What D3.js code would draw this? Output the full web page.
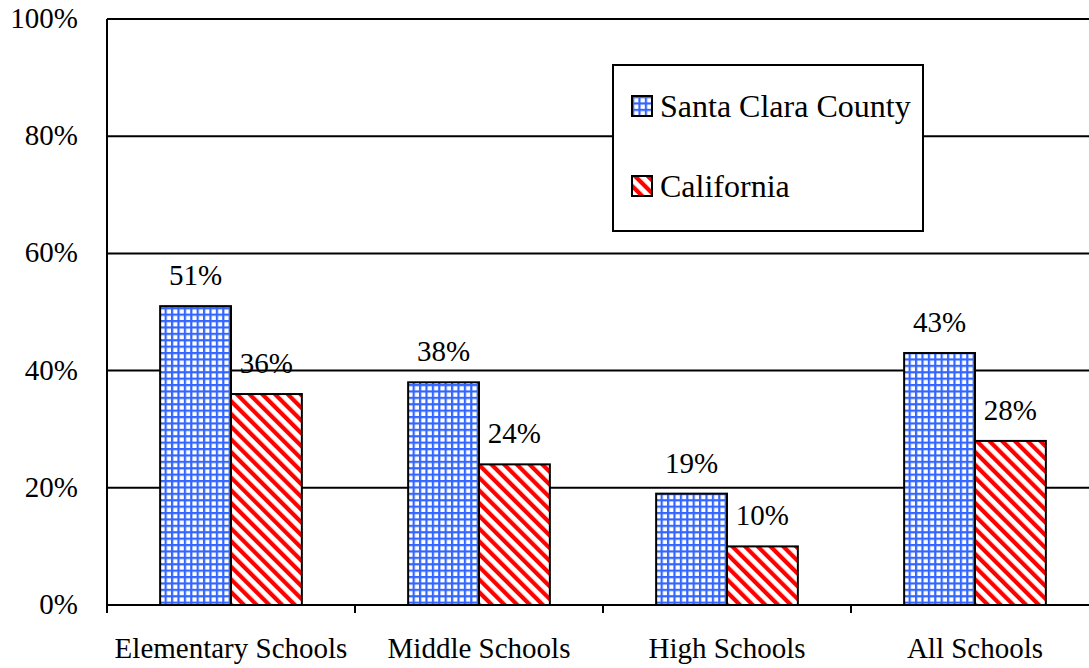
<!DOCTYPE html>
<meta charset="utf-8">
<style>
body { margin: 0; background: #fff; }
text { font-family: "Times New Roman", "Liberation Serif", "DejaVu Serif", serif; fill: #000; }
</style>
<svg width="1089" height="668"></svg>
<script src="https://d3js.org/d3.v7.min.js"></script>
<script>

var categories = ["Elementary Schools", "Middle Schools", "High Schools", "All Schools"];
var series = ["Santa Clara County", "California"];
var santaClara = [51, 38, 19, 43];
var california = [36, 24, 10, 28];
var yTicks = [0, 20, 40, 60, 80, 100];

var svg = d3.select("svg");

var margin = {left: 107, top: 19, bottom: 605},
    plotRight = 1099;

var defs = svg.append("defs");

// blue grid pattern
var grid = defs.append("pattern")
    .attr("id", "grid")
    .attr("patternUnits", "userSpaceOnUse")
    .attr("width", 6.4).attr("height", 6.4);
grid.append("rect").attr("width", 6.4).attr("height", 6.4).attr("fill", "#fff");
grid.append("rect").attr("width", 2.2).attr("height", 6.4).attr("fill", "#3366ff");
grid.append("rect").attr("width", 6.4).attr("height", 2.2).attr("fill", "#3366ff");

// red diagonal stripes
var hatch = defs.append("pattern")
    .attr("id", "hatch")
    .attr("patternUnits", "userSpaceOnUse")
    .attr("width", 9).attr("height", 9)
    .attr("patternTransform", "rotate(-45)");
hatch.append("rect").attr("width", 9).attr("height", 9).attr("fill", "#fff");
hatch.append("rect").attr("width", 4.2).attr("height", 9).attr("fill", "#ff0000");

var fills = ["url(#grid)", "url(#hatch)"];

var x = d3.scaleBand()
    .domain(categories)
    .range([margin.left, plotRight])
    .paddingInner(0)
    .paddingOuter(0);

var x1 = d3.scaleBand()
    .domain(series)
    .range([0, x.bandwidth()])
    .paddingInner(0)
    .paddingOuter(0.75);

var y = d3.scaleLinear()
    .domain([0, 100])
    .range([margin.bottom, margin.top]);

// gridlines
svg.append("g")
  .selectAll("line")
  .data(yTicks.slice(1))
  .enter().append("line")
    .attr("x1", margin.left).attr("x2", plotRight)
    .attr("y1", function(d) { return y(d); })
    .attr("y2", function(d) { return y(d); })
    .attr("stroke", "#000").attr("stroke-width", 2);

// y labels
svg.append("g")
  .selectAll("text")
  .data(yTicks)
  .enter().append("text")
    .attr("x", 78)
    .attr("y", function(d) { return y(d) + 9; })
    .attr("text-anchor", "end")
    .style("font-size", "29px")
    .text(function(d) { return d + "%"; });

// bars
var rows = categories.map(function(c, i) {
  return {cat: c, vals: [santaClara[i], california[i]]};
});

var groups = svg.append("g")
  .selectAll("g")
  .data(rows)
  .enter().append("g")
    .attr("transform", function(d) { return "translate(" + x(d.cat) + ",0)"; });

groups.selectAll("rect")
  .data(function(d) { return d.vals.map(function(v, j) { return {s: series[j], v: v, j: j}; }); })
  .enter().append("rect")
    .attr("x", function(d) { return x1(d.s); })
    .attr("width", x1.bandwidth())
    .attr("y", function(d) { return y(d.v); })
    .attr("height", function(d) { return y(0) - y(d.v); })
    .attr("fill", function(d) { return fills[d.j]; })
    .attr("stroke", "#000").attr("stroke-width", 2);

groups.selectAll("text")
  .data(function(d) { return d.vals.map(function(v, j) { return {s: series[j], v: v}; }); })
  .enter().append("text")
    .attr("x", function(d) { return x1(d.s) + x1.bandwidth() / 2; })
    .attr("y", function(d) { return y(d.v) - 21; })
    .attr("text-anchor", "middle")
    .style("font-size", "29px")
    .text(function(d) { return d.v + "%"; });

// axes lines
svg.append("line")
    .attr("x1", margin.left).attr("x2", margin.left)
    .attr("y1", margin.top).attr("y2", margin.bottom)
    .attr("stroke", "#000").attr("stroke-width", 2);
svg.append("line")
    .attr("x1", margin.left).attr("x2", plotRight)
    .attr("y1", margin.bottom).attr("y2", margin.bottom)
    .attr("stroke", "#000").attr("stroke-width", 2);

// category ticks
svg.append("g")
  .selectAll("line")
  .data(categories)
  .enter().append("line")
    .attr("x1", function(d) { return x(d); })
    .attr("x2", function(d) { return x(d); })
    .attr("y1", margin.bottom).attr("y2", margin.bottom + 8)
    .attr("stroke", "#000").attr("stroke-width", 2);

// x labels
svg.append("g")
  .selectAll("text")
  .data(categories)
  .enter().append("text")
    .attr("x", function(d) { return x(d) + x.bandwidth() / 2; })
    .attr("y", 658)
    .attr("text-anchor", "middle")
    .style("font-size", "29px")
    .text(function(d) { return d; });

// legend
var legend = svg.append("g");
legend.append("rect")
    .attr("x", 613).attr("y", 65)
    .attr("width", 310).attr("height", 166)
    .attr("fill", "#fff")
    .attr("stroke", "#000").attr("stroke-width", 2);

var item = legend.selectAll("g")
  .data(series)
  .enter().append("g")
    .attr("transform", function(d, i) { return "translate(632," + (96 + i * 80) + ")"; });

item.append("rect")
    .attr("width", 20).attr("height", 20)
    .attr("fill", function(d, i) { return fills[i]; })
    .attr("stroke", "#000").attr("stroke-width", 2);

item.append("text")
    .attr("x", 28)
    .attr("y", 21)
    .style("font-size", "32px")
    .text(function(d) { return d; });

</script>
